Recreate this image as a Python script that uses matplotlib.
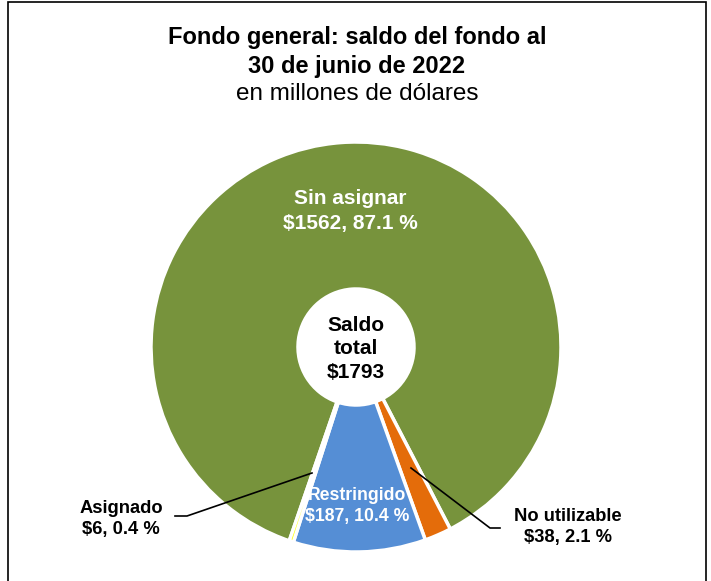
import matplotlib
matplotlib.use("Agg")
import matplotlib.pyplot as plt
from matplotlib.patches import Rectangle

plt.rcParams['font.family'] = ['Liberation Sans', 'DejaVu Sans']

categories = ["Sin asignar", "No utilizable", "Restringido", "Asignado"]
values = [1562, 38, 187, 6]
percents = [87.1, 2.1, 10.4, 0.4]
total = 1793
colors = ["#77933C", "#E46C0A", "#558ED5", "#FFFF00"]

W, H = 711, 581
fig = plt.figure(figsize=(W / 100, H / 100), dpi=100)
ax = fig.add_axes([0, 0, 1, 1])

def py(y):
    return H - y

cx, cy, R, r_in = 356, 347, 205, 58
ax.pie(values, colors=colors, startangle=251, counterclock=False,
       center=(cx, py(cy)), radius=R, frame=True,
       wedgeprops=dict(width=R - r_in, edgecolor='white', linewidth=2.5))
ax.set_xlim(0, W)
ax.set_ylim(0, H)
ax.set_aspect('equal')
ax.axis('off')

# border
fig.patches.append(Rectangle((8 / W, -0.05), (706 - 8) / W, (H - 2) / H + 0.05,
                             transform=fig.transFigure, fill=False,
                             edgecolor='black', linewidth=1.2))

# titles
ax.text(357, py(52), "Fondo general: saldo del fondo al\n30 de junio de 2022",
        ha='center', va='center', fontsize=17, fontweight='bold',
        linespacing=1.3)
ax.text(357, py(94), "en millones de dólares", ha='center', va='center',
        fontsize=17.5)

# center text
ax.text(cx, py(349), f"Saldo\ntotal\n${total}", ha='center', va='center',
        fontsize=15, fontweight='bold', linespacing=1.3)

# wedge labels
ax.text(350, py(211), f"{categories[0]}\n${values[0]}, {percents[0]} %",
        ha='center', va='center', fontsize=15, fontweight='bold',
        color='white', linespacing=1.45)
ax.text(357, py(506), f"{categories[2]}\n${values[2]}, {percents[2]} %",
        ha='center', va='center', fontsize=12.7, fontweight='bold',
        color='white', linespacing=1.25)
ax.text(121, py(519), f"{categories[3]}\n${values[3]}, {percents[3]} %",
        ha='center', va='center', fontsize=13.2, fontweight='bold',
        color='black', linespacing=1.3)
ax.text(568, py(527), f"{categories[1]}\n${values[1]}, {percents[1]} %",
        ha='center', va='center', fontsize=13.2, fontweight='bold',
        color='black', linespacing=1.3)

# leader lines
ax.plot([175, 187, 312], [py(516), py(516), py(473)], color='black', lw=1.2)
ax.plot([500, 490, 411], [py(528), py(528), py(468)], color='black', lw=1.2)

fig.savefig("out.png", dpi=100)
